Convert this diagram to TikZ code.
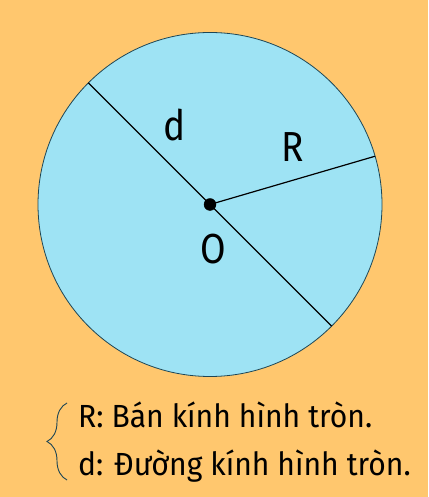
\documentclass[tikz,border=0pt]{standalone}
\usepackage{fontspec}
\setmainfont{Fira Sans}[FakeStretch=0.88]
\newfontfamily\notefont{Fira Sans}[FakeStretch=0.94]
\usetikzlibrary{calc,decorations.pathreplacing}
\definecolor{bgorange}{RGB}{255,199,110}
\definecolor{discblue}{RGB}{158,227,244}
\definecolor{rimslate}{RGB}{30,70,85}
\begin{document}
\begin{tikzpicture}[x=1pt,y=1pt,
    lbl/.style={font=\fontsize{42}{50}\selectfont,inner sep=0pt},
    note/.style={font=\notefont\fontsize{32}{38}\selectfont,inner sep=0pt,anchor=base west}]
                \fill[bgorange] (0,0) rectangle (428,497);
                \useasboundingbox (0,0) rectangle (428,497);
                \coordinate (O) at (210,292.5);
                \filldraw[fill=discblue,draw=rimslate,line width=0.8pt] (O) circle[radius=172];
                \coordinate (A) at ($(O)+(135:172)$);
                \coordinate (B) at ($(O)+(-45:172)$);
                \coordinate (C) at ($(O)+(16.3:172)$);
                \draw[-,line width=1.2pt](A)--(B);
                \draw[-,line width=1.2pt](O)--(C);
                \filldraw[black] (O) circle (6);
                \node[lbl] (d) at (175,372) {d};
                \node[lbl] (R) at (293,350) {R};
                \node[lbl] (o) at (213,248) {O};
                \node[note] (r1) at (78,69) {R: Bán kính hình tròn.};
                \node[note] (r2) at (78,21) {d: Đường kính hình tròn.};
                \draw[rimslate,line width=0.9pt,decorate,decoration={brace,amplitude=20}](67,17)--(67,94);
            \end{tikzpicture}
\end{document}
